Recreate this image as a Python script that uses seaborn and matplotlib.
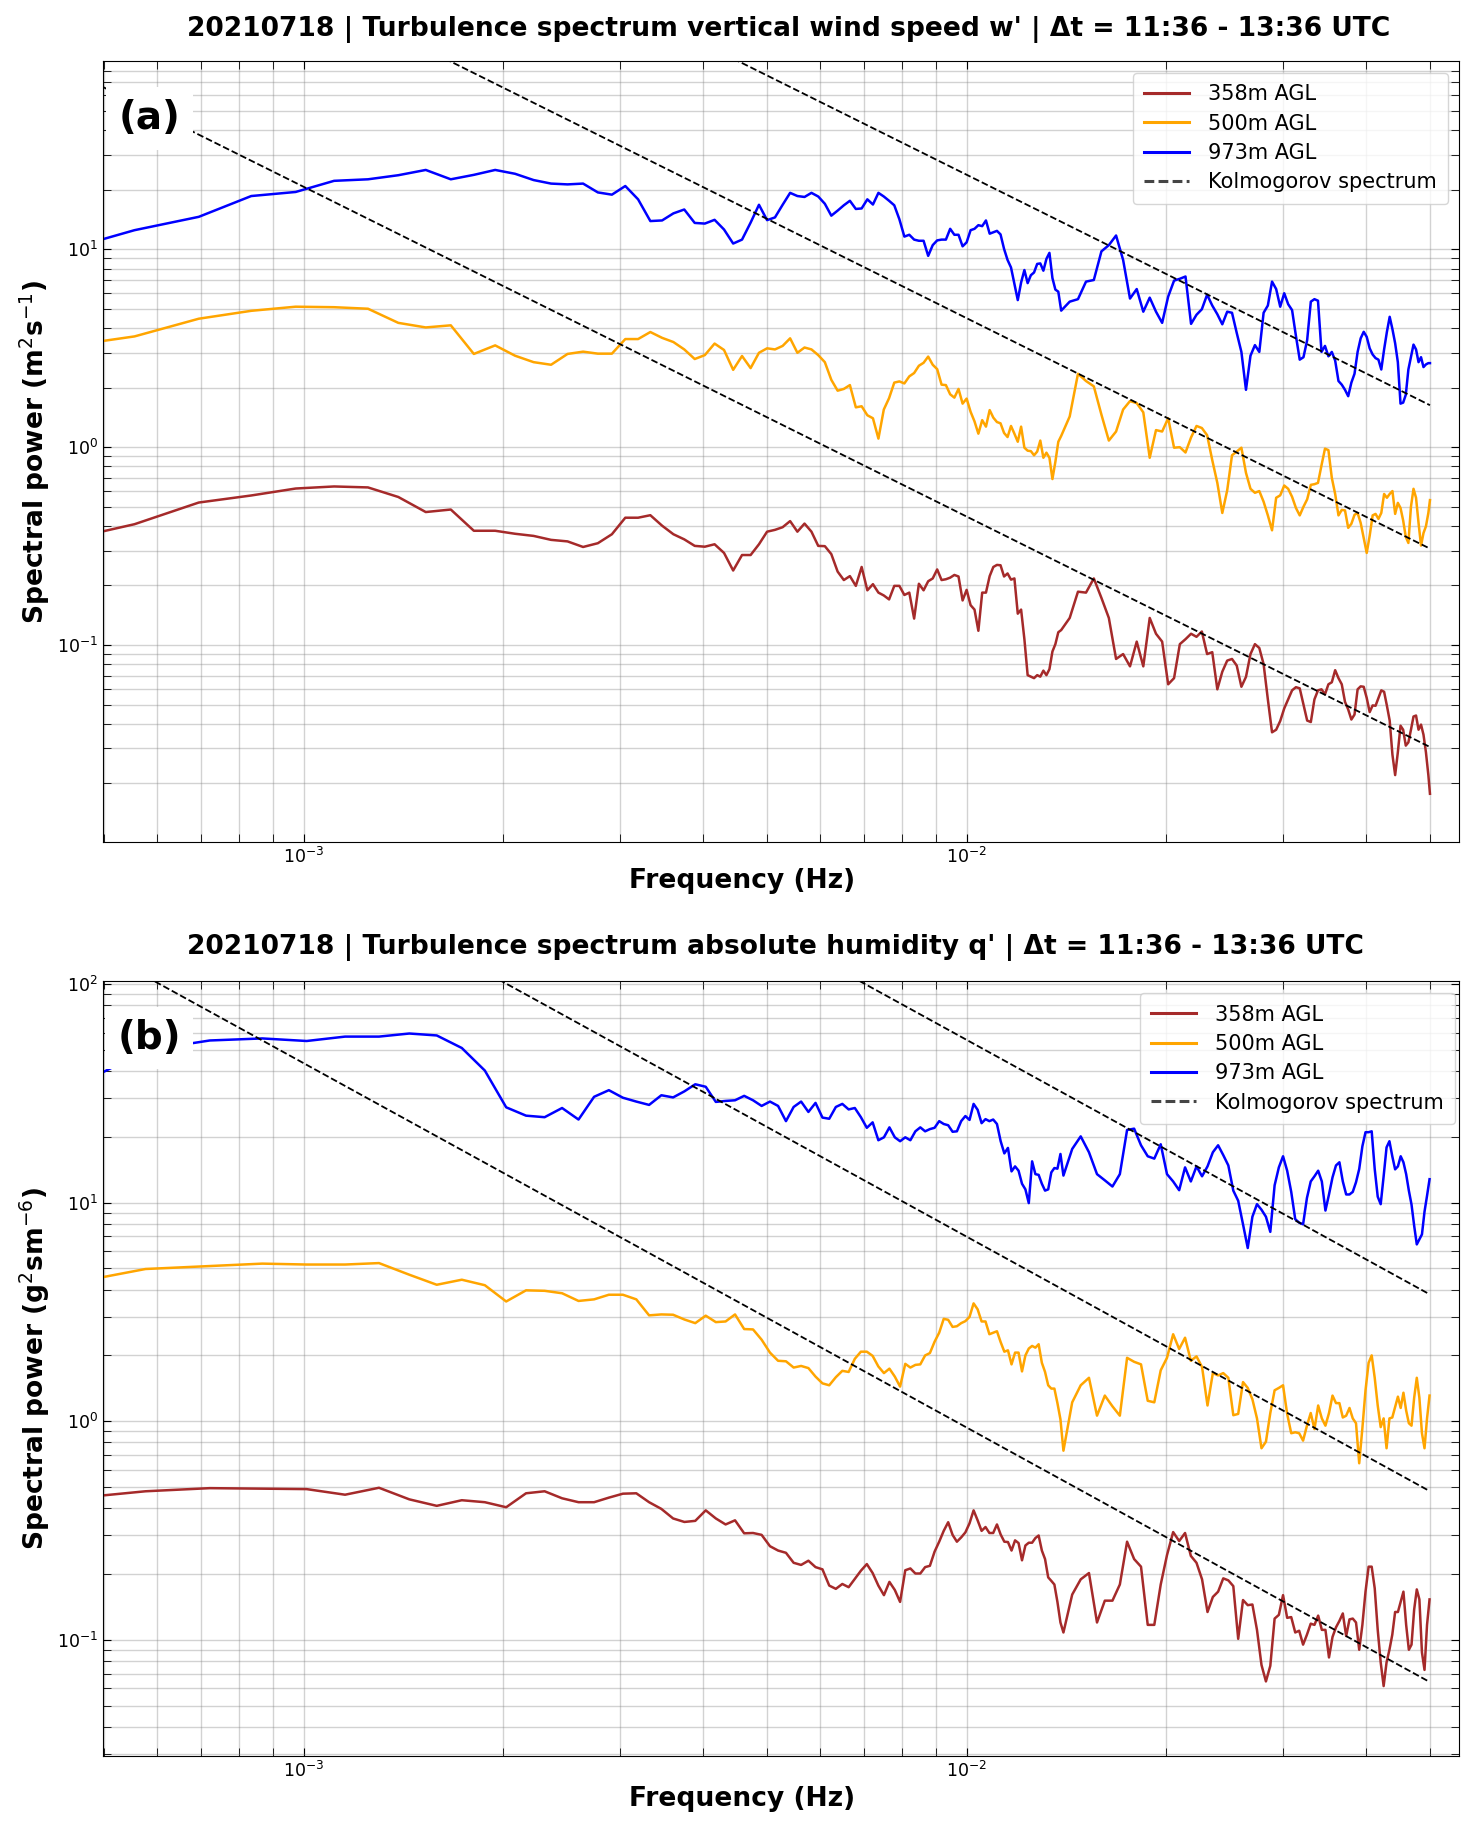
import numpy as np
import matplotlib
matplotlib.use("Agg")
import matplotlib.pyplot as plt
from matplotlib.lines import Line2D
import seaborn as sns

# frequency bins (FFT of a 10 s record): w' record is 7200 s, q' record is 6930 s
k_w = np.r_[np.arange(3, 100), np.arange(100, 359, 3), 360]
freq_w = k_w / 7200.0
k_q = np.r_[np.arange(3, 97), np.arange(97, 347, 3)]
freq_q = k_q / 6930.0

heights = ["358m AGL", "500m AGL", "973m AGL"]
colors = ["brown", "orange", "blue"]

# --- (a) vertical wind speed w' spectra ---
w_358 = [0.328, 0.408, 0.525, 0.570, 0.618, 0.633, 0.626, 0.560, 0.470, 0.484, 0.378,
         0.378, 0.365, 0.356, 0.340, 0.334, 0.313, 0.327, 0.363, 0.440, 0.440, 0.453,
         0.401, 0.363, 0.342, 0.317, 0.314, 0.323, 0.292, 0.238, 0.285, 0.285,
         0.323, 0.374, 0.382, 0.394, 0.423, 0.374, 0.411, 0.374, 0.317, 0.316,
         0.288, 0.235, 0.213, 0.223, 0.199, 0.248, 0.189, 0.203, 0.184, 0.178,
         0.170, 0.199, 0.199, 0.179, 0.184, 0.136, 0.204, 0.189, 0.210, 0.217,
         0.241, 0.213, 0.215, 0.219, 0.226, 0.222, 0.168, 0.190, 0.159, 0.151,
         0.118, 0.184, 0.184, 0.223, 0.248, 0.254, 0.253, 0.222, 0.230, 0.214,
         0.217, 0.144, 0.151, 0.107, 0.0704, 0.0692, 0.068, 0.0704, 0.0692, 0.0742,
         0.0704, 0.0755, 0.0927, 0.101, 0.116,
         0.119, 0.137, 0.186, 0.184, 0.217, 0.173, 0.137, 0.085, 0.090, 0.078,
         0.104, 0.078, 0.137, 0.114, 0.104, 0.0633, 0.068, 0.101, 0.107, 0.114,
         0.110, 0.117, 0.090, 0.092, 0.0597, 0.0733, 0.0834, 0.085, 0.0787, 0.0615,
         0.069, 0.090, 0.101, 0.0966, 0.080, 0.0531, 0.0362, 0.0373, 0.0413, 0.0478,
         0.0531, 0.059, 0.0612, 0.0604, 0.0501, 0.0415, 0.0408, 0.0531, 0.059, 0.0597,
         0.0563, 0.0633, 0.0648, 0.0746, 0.068, 0.0633, 0.0516, 0.0472, 0.042, 0.0445,
         0.0597, 0.0618, 0.0615, 0.054, 0.0458, 0.0495, 0.0493, 0.054, 0.059, 0.058,
         0.0493, 0.0415, 0.0279, 0.022, 0.0287, 0.0391, 0.0373, 0.031, 0.0322, 0.0373,
         0.0435, 0.044, 0.0373, 0.0396, 0.0352, 0.0287, 0.022, 0.0177]
w_500 = [3.16, 3.63, 4.46, 4.89, 5.13, 5.10, 5.01, 4.25, 4.03, 4.13, 2.96,
         3.27, 2.90, 2.69, 2.61, 2.96, 3.04, 2.97, 2.97, 3.52, 3.52, 3.82,
         3.57, 3.40, 3.12, 2.79, 2.92, 3.34, 3.10, 2.46, 2.89, 2.51,
         3.00, 3.16, 3.12, 3.25, 3.55, 3.00, 3.19, 3.12, 2.92, 2.69,
         2.19, 1.93, 1.97, 2.06, 1.59, 1.61, 1.45, 1.40, 1.105, 1.55,
         1.77, 2.12, 2.15, 2.10, 2.28, 2.37, 2.58, 2.67, 2.87, 2.61,
         2.48, 2.07, 2.06, 1.85, 1.78, 1.97, 1.66, 1.76, 1.51, 1.35,
         1.17, 1.37, 1.27, 1.54, 1.41, 1.34, 1.32, 1.18, 1.125, 1.28,
         1.17, 1.065, 1.27, 0.994, 0.96, 0.955, 0.91, 0.95, 1.08, 0.884,
         0.938, 0.884, 0.69, 0.844, 1.065,
         1.14, 1.43, 2.35, 2.16, 2.03, 1.46, 1.08, 1.20, 1.55, 1.71,
         1.67, 1.50, 0.884, 1.22, 1.20, 1.40, 0.994, 1.00, 0.94, 1.12,
         1.28, 1.25, 1.15, 0.86, 0.66, 0.465, 0.605, 0.91, 0.95, 0.994,
         0.742, 0.616, 0.588, 0.60, 0.53, 0.452, 0.38, 0.555, 0.571, 0.64,
         0.616, 0.561, 0.493, 0.452, 0.50, 0.545, 0.645, 0.65, 0.66, 0.81,
         0.983, 0.966, 0.70, 0.58, 0.452, 0.482, 0.479, 0.391, 0.41, 0.455,
         0.465, 0.414, 0.347, 0.292, 0.357, 0.452, 0.46, 0.434, 0.465, 0.58,
         0.555, 0.58, 0.60, 0.46, 0.523, 0.493, 0.426, 0.352, 0.328, 0.50,
         0.616, 0.555, 0.414, 0.318, 0.368, 0.398, 0.465, 0.54]
w_973 = [9.5, 12.5, 14.6, 18.6, 19.5, 22.2, 22.6, 23.7, 25.2, 22.6, 23.8,
         25.2, 24.1, 22.4, 21.5, 21.3, 21.5, 19.4, 18.9, 20.9, 17.9, 13.9,
         14.0, 15.2, 15.9, 13.6, 13.5, 14.1, 12.6, 10.7, 11.2, 13.65,
         16.8, 14.05, 14.5, 16.8, 19.3, 18.6, 18.4, 19.3, 18.5, 17.0,
         14.8, 15.7, 16.7, 17.6, 16.0, 16.1, 17.9, 16.85, 19.3, 18.5,
         17.6, 16.7, 14.2, 11.6, 11.85, 11.2, 11.05, 11.05, 9.27, 10.5,
         11.1, 11.2, 11.2, 12.7, 11.85, 11.85, 10.36, 10.85, 12.5, 12.7,
         13.25, 13.1, 14.0, 12.0, 12.2, 12.4, 11.9, 10.05, 8.84, 8.1,
         6.67, 5.54, 6.8, 7.86, 6.75, 7.4, 7.64, 8.44, 8.49, 7.8,
         8.95, 9.6, 7.16, 6.26, 6.11,
         4.9, 5.44, 5.6, 6.87, 7.0, 9.77, 10.5, 11.75, 8.84, 5.64,
         6.3, 4.84, 5.7, 4.84, 4.25, 5.77, 6.95, 7.1, 7.29, 4.2,
         4.67, 4.98, 5.9, 5.2, 4.7, 4.18, 4.84, 4.78, 3.78, 3.03,
         1.95, 2.9, 3.28, 3.03, 4.78, 5.2, 6.87, 6.3, 5.13, 6.0,
         5.28, 4.93, 3.65, 2.77, 2.85, 3.48, 5.44, 5.6, 5.5, 3.03,
         3.25, 2.88, 3.03, 2.74, 2.16, 2.07, 1.95, 1.81, 2.12, 2.35,
         3.03, 3.55, 3.83, 3.61, 3.16, 2.94, 2.82, 2.77, 2.47, 3.12,
         3.83, 4.56, 3.95, 3.35, 2.69, 1.66, 1.68, 1.84, 2.47, 2.85,
         3.3, 3.12, 2.69, 2.85, 2.54, 2.62, 2.66, 2.66]

# --- (b) absolute humidity q' spectra ---
q_358 = [0.439, 0.478, 0.494, 0.491, 0.489, 0.461, 0.496, 0.439, 0.410, 0.435, 0.426,
         0.404, 0.468, 0.478, 0.444, 0.426, 0.426, 0.447, 0.466, 0.468, 0.426, 0.397,
         0.359, 0.346, 0.350, 0.391, 0.359, 0.337, 0.352, 0.307, 0.308, 0.302,
         0.268, 0.256, 0.250, 0.225, 0.220, 0.230, 0.215, 0.210, 0.177, 0.171,
         0.180, 0.174, 0.190, 0.207, 0.222, 0.202, 0.177, 0.160, 0.184, 0.169,
         0.149, 0.208, 0.212, 0.201, 0.201, 0.215, 0.218, 0.253, 0.281, 0.315,
         0.345, 0.302, 0.281, 0.294, 0.310, 0.341, 0.391, 0.352, 0.315, 0.328,
         0.308, 0.308, 0.337, 0.303, 0.281, 0.280, 0.256, 0.285, 0.277, 0.231,
         0.270, 0.278, 0.278, 0.292, 0.300, 0.256, 0.234, 0.193, 0.186, 0.179,
         0.149, 0.120,
         0.108, 0.161, 0.189, 0.202, 0.120, 0.151, 0.151, 0.179, 0.281, 0.234,
         0.216, 0.117, 0.117, 0.179, 0.244, 0.311, 0.283, 0.308, 0.242, 0.225,
         0.189, 0.134, 0.157, 0.166, 0.191, 0.187, 0.176, 0.101, 0.152, 0.144,
         0.145, 0.111, 0.0767, 0.0645, 0.076, 0.125, 0.130, 0.160, 0.126, 0.127,
         0.108, 0.110, 0.095, 0.1055, 0.1185, 0.117, 0.129, 0.111, 0.111, 0.083,
         0.103, 0.114, 0.122, 0.132, 0.104, 0.124, 0.125, 0.120, 0.090, 0.117,
         0.166, 0.216, 0.216, 0.172, 0.111, 0.0788, 0.0614, 0.0788, 0.090, 0.1055,
         0.134, 0.134, 0.149, 0.166, 0.117, 0.090, 0.095, 0.1375, 0.170, 0.153,
         0.0875, 0.0728, 0.117, 0.153]
q_500 = [4.21, 4.97, 5.13, 5.26, 5.21, 5.21, 5.29, 4.68, 4.21, 4.44, 4.19,
         3.53, 3.97, 3.95, 3.85, 3.55, 3.61, 3.79, 3.79, 3.61, 3.05, 3.08,
         3.07, 2.92, 2.81, 3.04, 2.84, 2.86, 3.08, 2.64, 2.63, 2.36,
         2.06, 1.89, 1.88, 1.76, 1.79, 1.75, 1.60, 1.49, 1.46, 1.59,
         1.70, 1.68, 1.93, 2.08, 2.08, 1.99, 1.78, 1.66, 1.74, 1.60,
         1.44, 1.83, 1.76, 1.81, 1.82, 2.00, 2.05, 2.31, 2.54, 2.94,
         2.91, 2.70, 2.72, 2.81, 2.87, 3.00, 3.46, 3.25, 2.86, 2.86,
         2.50, 2.54, 2.58, 2.30, 2.08, 2.11, 1.82, 2.06, 2.06, 1.69,
         2.00, 2.15, 2.21, 2.17, 2.25, 1.85, 1.68, 1.46, 1.41, 1.41,
         1.21, 1.02,
         0.733, 1.22, 1.46, 1.58, 1.06, 1.31, 1.17, 1.06, 1.95, 1.87,
         1.82, 1.24, 1.22, 1.71, 1.95, 2.50, 2.14, 2.41, 1.89, 1.98,
         1.77, 1.18, 1.66, 1.62, 1.66, 1.58, 1.065, 1.08, 1.51, 1.42,
         1.26, 1.03, 0.752, 0.806, 1.09, 1.385, 1.42, 1.46, 1.08, 0.881,
         0.89, 0.881, 0.815, 0.954, 1.09, 0.92, 1.18, 1.03, 0.954, 1.09,
         1.31, 1.21, 1.21, 1.04, 1.06, 1.15, 1.03, 0.979, 0.642, 0.929,
         1.385, 1.85, 2.00, 1.58, 1.18, 0.94, 1.03, 0.752, 1.03, 1.04,
         1.16, 1.295, 1.15, 1.35, 1.12, 0.979, 0.954, 1.28, 1.58, 1.28,
         0.881, 0.752, 1.03, 1.31]
q_973 = [31.8, 49.7, 55.2, 56.4, 54.9, 57.5, 57.5, 59.4, 58.2, 51.0, 40.2,
         27.3, 25.0, 24.6, 27.1, 24.0, 30.5, 32.7, 30.2, 29.0, 28.0, 31.0,
         30.3, 32.3, 34.8, 33.9, 28.9, 29.2, 29.4, 30.8, 29.4, 27.7,
         29.0, 27.7, 23.6, 27.4, 29.0, 26.0, 28.6, 24.5, 24.2, 27.4,
         28.3, 26.7, 27.1, 24.6, 22.0, 23.3, 19.3, 19.9, 22.1, 19.9,
         19.1, 19.9, 19.3, 21.2, 22.1, 21.2, 21.7, 22.0, 23.6, 22.9,
         22.6, 21.1, 21.2, 23.6, 24.9, 23.9, 28.3, 26.6, 23.1, 24.1,
         23.6, 24.0, 22.9, 19.1, 16.8, 17.8, 13.9, 14.65, 14.0, 12.2,
         11.5, 9.95, 15.45, 13.5, 13.4, 12.2, 11.35, 11.5, 13.75, 14.4,
         14.3, 16.7,
         13.3, 17.6, 20.1, 17.0, 13.5, 12.65, 11.85, 13.5, 21.5, 21.8,
         18.3, 16.3, 15.9, 18.5, 13.5, 12.5, 11.4, 14.5, 12.5, 14.65,
         13.2, 14.65, 17.0, 18.3, 16.5, 14.8, 11.35, 10.2, 7.96, 6.2,
         8.62, 9.84, 9.28, 8.62, 7.35, 12.0, 14.5, 16.3, 14.0, 11.2,
         8.4, 8.1, 7.96, 10.5, 12.5, 13.2, 14.0, 12.5, 9.2, 10.9,
         13.05, 14.8, 15.3, 12.5, 10.9, 10.9, 11.2, 12.4, 14.25, 18.1,
         21.0, 21.0, 21.2, 14.25, 10.65, 9.84, 13.2, 17.9, 19.1, 16.3,
         14.2, 14.65, 16.3, 15.3, 13.5, 11.35, 9.8, 7.84, 6.44, 6.79,
         7.16, 9.09, 10.75, 12.8]

# Kolmogorov -5/3 reference lines, level at 0.05 Hz
kolmo_w = [0.0305, 0.307, 1.63]
kolmo_q = [0.064, 0.478, 3.8]

title_w = "20210718 | Turbulence spectrum vertical wind speed w' | Δt = 11:36 - 13:36 UTC"
title_q = "20210718 | Turbulence spectrum absolute humidity q' | Δt = 11:36 - 13:36 UTC"
ylabel_w = "Spectral power (m$^2$s$^{-1}$)"
ylabel_q = "Spectral power (g$^2$sm$^{-6}$)"

fig = plt.figure(figsize=(14.74, 18.28), dpi=100)
ax_w = fig.add_axes([0.0699, 0.5394, 0.9199, 0.4272])
ax_q = fig.add_axes([0.0699, 0.0394, 0.9199, 0.4237])

# legend handles are drawn a bit heavier than the curves
handles = [Line2D([0], [0], color=c, linewidth=2.2) for c in colors]
handles.append(Line2D([0], [0], color="#454545", linewidth=2.2, linestyle=(0, (3.2, 1.4))))
labels = heights + ["Kolmogorov spectrum"]

panels = [
    (ax_w, freq_w, [w_358, w_500, w_973], kolmo_w, title_w, ylabel_w, "(a)",
     (0.0101, 89.5), 0.992, 18, 0.5),
    (ax_q, freq_q, [q_358, q_500, q_973], kolmo_q, title_q, ylabel_q, "(b)",
     (0.0294, 102.8), 0.997, 20, 4),
]

for ax, freq, series, kolmo, title, ylabel, tag, ylim, leg_x, tpad, xpad in panels:
    for vals, name, col in zip(series, heights, colors):
        sns.lineplot(x=freq, y=vals, ax=ax, color=col, linewidth=1.8, legend=False)
    for level in kolmo:
        ax.plot(freq, level * (freq / 0.05) ** (-5 / 3), "k--", linewidth=1.3)

    ax.set_xscale("log")
    ax.set_yscale("log")
    ax.set_xlim(4.98e-4, 0.0553)
    ax.set_ylim(*ylim)
    ax.grid(True, which="both", color="grey", alpha=0.35, linewidth=1.0)
    ax.tick_params(which="both", direction="in", top=True, right=True, length=6,
                   labelsize=12.5)

    t = ax.set_title(title, fontsize=19.1, fontweight="bold", pad=tpad, loc="left")
    t.set_x(0.0617)
    ax.set_xlabel("Frequency (Hz)", fontsize=19.1, fontweight="bold", labelpad=xpad)
    ax.xaxis.label.set_x(0.471)
    ax.set_ylabel(ylabel, fontsize=19.1, fontweight="bold")

    ax.text(0.034, 0.927, tag, transform=ax.transAxes, fontsize=28, fontweight="bold",
            ha="center", va="center",
            bbox=dict(facecolor="white", edgecolor="none", pad=9))
    ax.legend(handles, labels, loc="upper right", bbox_to_anchor=(leg_x, 0.985),
              borderaxespad=0, fontsize=15, handlelength=2.15, handletextpad=0.9,
              labelspacing=0.45, borderpad=0.55)

fig.savefig("out.png", dpi=100)
